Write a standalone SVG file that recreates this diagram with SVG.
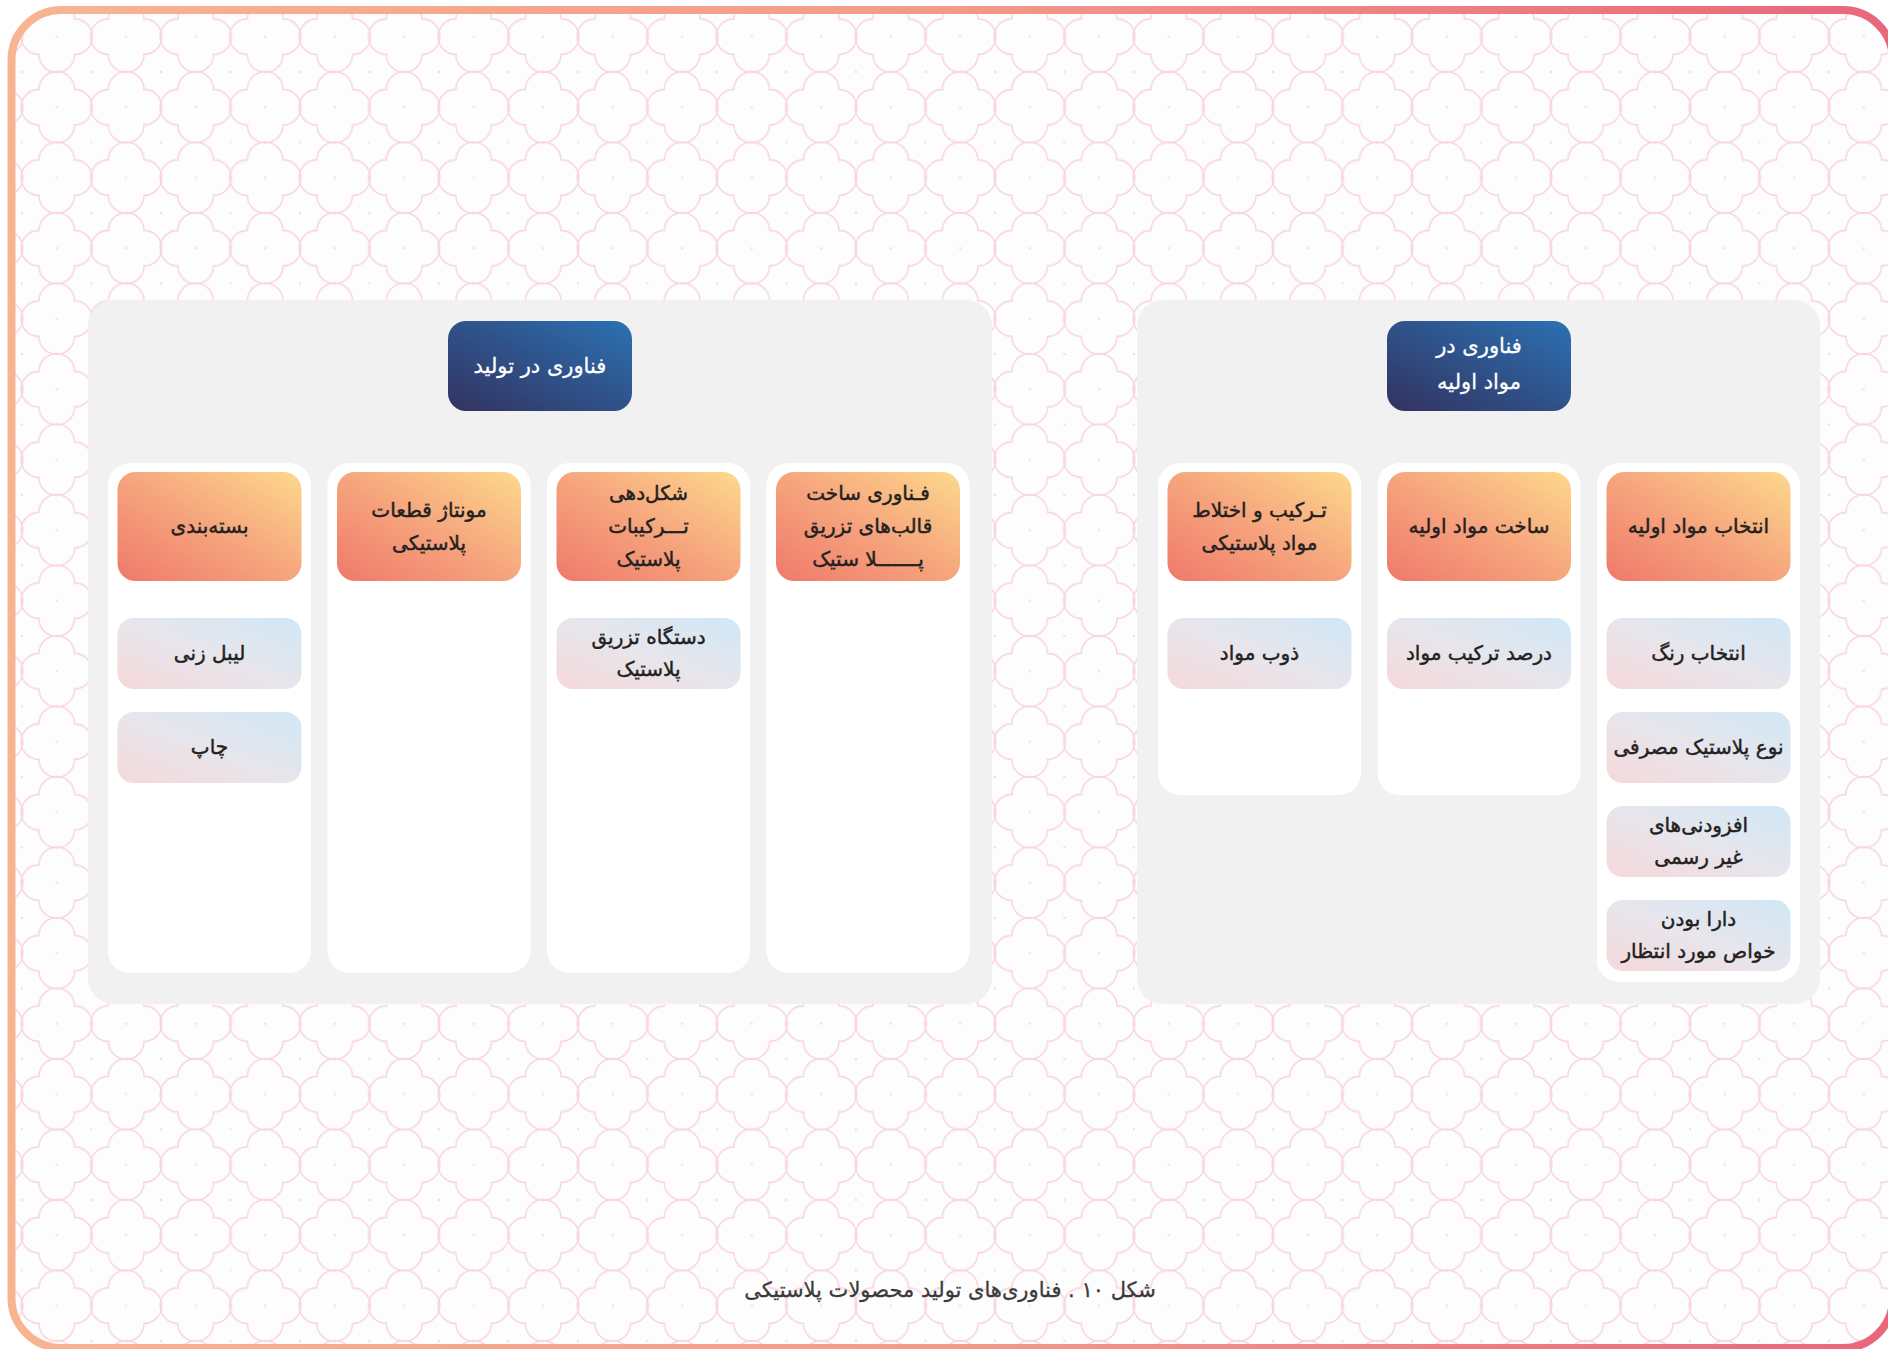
<svg xmlns="http://www.w3.org/2000/svg" xmlns:xlink="http://www.w3.org/1999/xlink" width="1888" height="1349" viewBox="0 0 1888 1349">
<defs>
<style>
.panel{fill:#f1f1f2}
.col{fill:#ffffff}
.hdr{fill:url(#hdrGrad)}
.sub{fill:url(#subGrad)}
.ttl{fill:url(#titleGrad)}
.t{font-family:"DejaVu Sans",sans-serif;font-size:20px;fill:#222222;stroke:#222222;stroke-width:0.45;text-anchor:middle;direction:rtl}
.tw{font-family:"DejaVu Sans",sans-serif;font-size:21px;fill:#ffffff;stroke:#ffffff;stroke-width:0.3;text-anchor:middle;direction:rtl}
.cap{font-family:"DejaVu Sans",sans-serif;font-size:21px;fill:#3a3a3a;stroke:#3a3a3a;stroke-width:0.3;text-anchor:middle;direction:rtl}
</style>
<linearGradient id="hdrGrad" x1="0" y1="1" x2="1" y2="0">
<stop offset="0" stop-color="#ef796b"/>
<stop offset="0.5" stop-color="#f6a57d"/>
<stop offset="1" stop-color="#fdd98c"/>
</linearGradient>
<linearGradient id="subGrad" x1="0" y1="1" x2="1" y2="0">
<stop offset="0" stop-color="#f6d8da"/>
<stop offset="0.5" stop-color="#e7e6ec"/>
<stop offset="1" stop-color="#d0e7f6"/>
</linearGradient>
<linearGradient id="titleGrad" x1="0" y1="1" x2="1" y2="0">
<stop offset="0" stop-color="#33325f"/>
<stop offset="1" stop-color="#2b71b3"/>
</linearGradient>
<linearGradient id="frameGrad" gradientUnits="userSpaceOnUse" x1="0" y1="0" x2="1888" y2="0">
<stop offset="0" stop-color="#f8b592"/>
<stop offset="0.5" stop-color="#f39a8a"/>
<stop offset="1" stop-color="#e8677b"/>
</linearGradient>
<path id="flower" d="M17.8,-17.8 A17.8,17.8 0 0 1 17.8,17.8 A17.8,17.8 0 0 1 -17.8,17.8 A17.8,17.8 0 0 1 -17.8,-17.8 A17.8,17.8 0 0 1 17.8,-17.8 Z"/>
<pattern id="pat" x="21.95" y="1.45" width="69.5" height="70.5" patternUnits="userSpaceOnUse">
<g fill="none" stroke="#f8d6df" stroke-width="1.6">
<use xlink:href="#flower" x="34.75" y="35.25"/>
<use xlink:href="#flower" x="-34.75" y="35.25"/>
<use xlink:href="#flower" x="104.25" y="35.25"/>
<use xlink:href="#flower" x="34.75" y="-35.25"/>
<use xlink:href="#flower" x="34.75" y="105.75"/>
</g>
<g fill="#eedfe3">
<circle cx="34.75" cy="35.25" r="1.3"/>
<circle cx="0" cy="0" r="1.3"/>
<circle cx="69.5" cy="0" r="1.3"/>
<circle cx="0" cy="70.5" r="1.3"/>
<circle cx="69.5" cy="70.5" r="1.3"/>
</g>
</pattern>
<clipPath id="frameClip"><rect x="11.5" y="10" width="1881.5" height="1338" rx="50"/></clipPath>
</defs>

<rect x="0" y="0" width="1888" height="1349" fill="#ffffff"/>
<g id="background" clip-path="url(#frameClip)">
<rect x="0" y="0" width="1888" height="1349" fill="#fefdfd"/>
<rect x="0" y="0" width="1888" height="1349" fill="url(#pat)"/>
</g>
<rect id="frame" x="11.5" y="10" width="1881.5" height="1338" rx="50" fill="none" stroke="url(#frameGrad)" stroke-width="8"/>

<g id="connectors"></g>

<!-- Left panel -->
<g id="panel-production">
<rect class="panel" x="88" y="300" width="904" height="704" rx="26"/>
<rect class="col" x="108" y="463" width="203" height="510" rx="22"/>
<rect class="col" x="327.5" y="463" width="203" height="510" rx="22"/>
<rect class="col" x="547" y="463" width="203" height="510" rx="22"/>
<rect class="col" x="766.5" y="463" width="203" height="510" rx="22"/>
</g>
<g id="title-production">
<rect class="ttl" x="448" y="321" width="184" height="90" rx="18"/>
<text class="tw" x="540" y="373">فناوری در تولید</text>
</g>

<g id="h-packaging">
<rect class="hdr" x="117.5" y="472" width="184" height="109" rx="18"/>
<text class="t" x="209.5" y="533">بسته&#8204;بندی</text>
</g>
<g id="s-labeling">
<rect class="sub" x="117.5" y="618" width="184" height="71" rx="16"/>
<text class="t" x="209.5" y="660">لیبل زنی</text>
</g>
<g id="s-print">
<rect class="sub" x="117.5" y="712" width="184" height="71" rx="16"/>
<text class="t" x="209.5" y="754">چاپ</text>
</g>

<g id="h-assembly">
<rect class="hdr" x="337" y="472" width="184" height="109" rx="18"/>
<text class="t" x="429" y="517">مونتاژ قطعات</text>
<text class="t" x="429" y="550">پلاستیکی</text>
</g>

<g id="h-forming">
<rect class="hdr" x="556.5" y="472" width="184" height="109" rx="18"/>
<text class="t" x="648.5" y="500">شکل&#8204;دهی</text>
<text class="t" x="648.5" y="533">تـــرکیبات</text>
<text class="t" x="648.5" y="566">پلاستیک</text>
</g>
<g id="s-injection-machine">
<rect class="sub" x="556.5" y="618" width="184" height="71" rx="16"/>
<text class="t" x="648.5" y="644">دستگاه تزریق</text>
<text class="t" x="648.5" y="676">پلاستیک</text>
</g>

<g id="h-mold">
<rect class="hdr" x="776" y="472" width="184" height="109" rx="18"/>
<text class="t" x="868" y="500">فـناوری ساخت</text>
<text class="t" x="868" y="533">قالب&#8204;های تزریق</text>
<text class="t" x="868" y="566">پـــــــلا ستیک</text>
</g>

<!-- Right panel -->
<g id="panel-materials">
<rect class="panel" x="1137" y="300" width="683" height="704" rx="26"/>
<rect class="col" x="1158" y="463" width="203" height="332" rx="22"/>
<rect class="col" x="1377.5" y="463" width="203" height="332" rx="22"/>
<rect class="col" x="1597" y="463" width="203" height="519" rx="22"/>
</g>
<g id="title-materials">
<rect class="ttl" x="1387" y="321" width="184" height="90" rx="18"/>
<text class="tw" x="1479" y="353">فناوری در</text>
<text class="tw" x="1479" y="389">مواد اولیه</text>
</g>

<g id="h-mixing">
<rect class="hdr" x="1167.5" y="472" width="184" height="109" rx="18"/>
<text class="t" x="1259.5" y="517">تـرکیب و اختلاط</text>
<text class="t" x="1259.5" y="550">مواد پلاستیکی</text>
</g>
<g id="s-melting">
<rect class="sub" x="1167.5" y="618" width="184" height="71" rx="16"/>
<text class="t" x="1259.5" y="660">ذوب مواد</text>
</g>

<g id="h-making">
<rect class="hdr" x="1387" y="472" width="184" height="109" rx="18"/>
<text class="t" x="1479" y="533">ساخت مواد اولیه</text>
</g>
<g id="s-percentage">
<rect class="sub" x="1387" y="618" width="184" height="71" rx="16"/>
<text class="t" x="1479" y="660">درصد ترکیب مواد</text>
</g>

<g id="h-selection">
<rect class="hdr" x="1606.5" y="472" width="184" height="109" rx="18"/>
<text class="t" x="1698.5" y="533">انتخاب مواد اولیه</text>
</g>
<g id="s-color">
<rect class="sub" x="1606.5" y="618" width="184" height="71" rx="16"/>
<text class="t" x="1698.5" y="660">انتخاب رنگ</text>
</g>
<g id="s-plastic-type">
<rect class="sub" x="1606.5" y="712" width="184" height="71" rx="16"/>
<text class="t" x="1698.5" y="754">نوع پلاستیک مصرفی</text>
</g>
<g id="s-additives">
<rect class="sub" x="1606.5" y="806" width="184" height="71" rx="16"/>
<text class="t" x="1698.5" y="832">افزودنی&#8204;های</text>
<text class="t" x="1698.5" y="864">غیر رسمی</text>
</g>
<g id="s-properties">
<rect class="sub" x="1606.5" y="900" width="184" height="71" rx="16"/>
<text class="t" x="1698.5" y="926">دارا بودن</text>
<text class="t" x="1698.5" y="958">خواص مورد انتظار</text>
</g>

<g id="caption">
<text class="cap" x="950" y="1297">شکل ۱۰ . فناوری&#8204;های تولید محصولات پلاستیکی</text>
</g>
</svg>
